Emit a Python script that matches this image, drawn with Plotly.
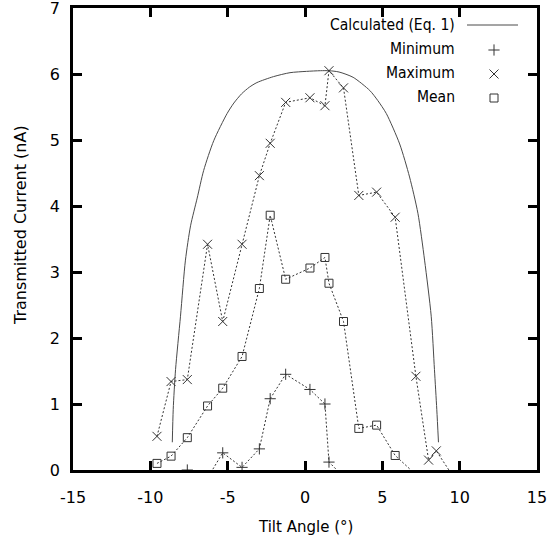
import plotly.graph_objects as go

# ---------------- data ----------------
calc_angle = [-8.58, -8.52, -8.37, -8.05, -7.73, -7.40, -6.97, -6.55, -5.90, -5.04,
              -4.60, -4.10, -3.60, -3.11, -2.04, -0.97, 0.10, 1.00, 1.56, 2.20,
              3.11, 4.19, 4.70, 5.26, 6.12, 6.76, 7.30, 7.73, 8.16, 8.37,
              8.52, 8.63]
calc_current = [0.42, 0.92, 1.52, 2.33, 3.18, 3.70, 4.12, 4.54, 4.99, 5.40,
                5.56, 5.70, 5.80, 5.87, 5.96, 6.02, 6.04, 6.05, 6.05, 6.03,
                5.95, 5.75, 5.60, 5.40, 4.94, 4.44, 3.89, 3.18, 2.33, 1.52,
                0.92, 0.42]

min_angle = [-7.61, -6.30, -5.32, -4.07, -2.95, -2.25, -1.25, 0.32, 1.29, 1.55, 2.49]
min_current = [0.00, -0.12, 0.26, 0.04, 0.32, 1.08, 1.45, 1.22, 1.00, 0.12, -0.10]

max_angle = [-9.57, -8.66, -7.61, -6.30, -5.32, -4.07, -2.95, -2.25, -1.25, 0.32,
             1.29, 1.55, 2.49, 3.48, 4.63, 5.83, 7.17, 7.99, 8.49, 9.50]
max_current = [0.51, 1.34, 1.37, 3.42, 2.25, 3.42, 4.46, 4.95, 5.57, 5.64,
               5.52, 6.05, 5.79, 4.16, 4.21, 3.83, 1.42, 0.15, 0.29, -0.07]

mean_angle = [-9.57, -8.66, -7.61, -6.30, -5.32, -4.07, -2.95, -2.25, -1.25, 0.32,
              1.29, 1.55, 2.49, 3.48, 4.63, 5.83, 7.17]
mean_current = [0.10, 0.21, 0.49, 0.97, 1.24, 1.72, 2.75, 3.86, 2.89, 3.06,
                3.22, 2.83, 2.25, 0.63, 0.68, 0.22, -0.07]

legend_labels = ["Calculated (Eq. 1)", "Minimum", "Maximum", "Mean"]
x_ticks = [-15, -10, -5, 0, 5, 10, 15]
x_tick_text = ["-15", "-10", "-5", "0", "5", "10", "15"]
y_ticks = [0, 1, 2, 3, 4, 5, 6, 7]

# ---------------- styling ----------------
FONT = "DejaVu Sans, sans-serif"
FONT_C = "DejaVu Sans Condensed, DejaVu Sans, sans-serif"
TXT = "#000000"
LINE = "#4a4a4a"
MARK = "#333333"
DOT = "2px,2px"

W, H = 552, 546
ML, MR, MT, MB = 73, 15, 8, 76

fig = go.Figure()

fig.add_trace(go.Scatter(x=calc_angle, y=calc_current, mode="lines",
                         line=dict(color=LINE, width=1, shape="spline", smoothing=0.7),
                         showlegend=False, hoverinfo="skip"))

fig.add_trace(go.Scatter(x=min_angle, y=min_current, mode="lines+markers",
                         line=dict(color=MARK, width=1, dash=DOT),
                         marker=dict(symbol="cross-thin-open", size=8,
                                     line=dict(color=MARK, width=1)),
                         showlegend=False))

fig.add_trace(go.Scatter(x=max_angle, y=max_current, mode="lines+markers",
                         line=dict(color=MARK, width=1, dash=DOT),
                         marker=dict(symbol="x-thin-open", size=9,
                                     line=dict(color=MARK, width=1)),
                         showlegend=False))

fig.add_trace(go.Scatter(x=mean_angle, y=mean_current, mode="lines+markers",
                         line=dict(color=MARK, width=1, dash=DOT),
                         marker=dict(symbol="square-open", size=8, color=MARK,
                                     line=dict(color=MARK, width=1)),
                         showlegend=False))

# ---------------- manual legend (text left, sample right, like gnuplot) -------
px_x0, px_x1 = ML, W - MR
px_y0, px_y1 = MT, H - MB
leg_text_x = 457
leg_rows = [25, 49, 73, 97]
sample_x0, sample_x1 = 467, 518
sample_xc = 494

fig.add_trace(go.Scatter(x=[sample_x0, sample_x1], y=[leg_rows[0], leg_rows[0]],
                         xaxis="x2", yaxis="y2", mode="lines",
                         line=dict(color=LINE, width=1), showlegend=False, hoverinfo="skip"))
for row, sym, sz in [(leg_rows[1], "cross-thin-open", 8),
                     (leg_rows[2], "x-thin-open", 9),
                     (leg_rows[3], "square-open", 8)]:
    fig.add_trace(go.Scatter(x=[sample_xc], y=[row + 1], xaxis="x2", yaxis="y2",
                             mode="markers",
                             marker=dict(symbol=sym, size=sz, color=MARK,
                                         line=dict(color=MARK, width=1)),
                             showlegend=False, hoverinfo="skip"))

annotations = []
for lab, row in zip(legend_labels, leg_rows):
    annotations.append(dict(x=leg_text_x, y=row, xref="x2", yref="y2", text=lab,
                            showarrow=False, xanchor="right", yanchor="middle",
                            font=dict(family=FONT_C, size=15.5, color=TXT)))

# axis titles as annotations (placed like the reference)
plot_w = W - ML - MR
plot_h = H - MT - MB
annotations.append(dict(text="Tilt Angle (°)", xref="paper", yref="paper",
                        x=(305 - ML) / plot_w, y=-(527 - (H - MB)) / plot_h,
                        xanchor="center", yanchor="middle", showarrow=False,
                        font=dict(family=FONT, size=15, color=TXT)))
annotations.append(dict(text="Transmitted Current (nA)", xref="paper", yref="paper",
                        x=-(ML - 20) / plot_w, y=((H - MB) - 225) / plot_h,
                        xanchor="center", yanchor="middle", showarrow=False,
                        textangle=-90,
                        font=dict(family=FONT, size=16, color=TXT)))

axis_common = dict(showgrid=False, zeroline=False, showline=True, linecolor="#000000",
                   linewidth=2.6, mirror="ticks", ticks="inside", ticklen=9,
                   tickwidth=2.6, tickcolor="#000000", automargin=False,
                   ticklabeloverflow="allow",
                   tickfont=dict(family=FONT, size=16, color=TXT))

fig.update_layout(
    width=W, height=H,
    margin=dict(l=ML, r=MR, t=MT, b=MB, pad=0, autoexpand=False),
    paper_bgcolor="white", plot_bgcolor="white",
    font=dict(family=FONT, size=16, color=TXT),
    xaxis=dict(range=[-15, 15], tickvals=x_ticks, ticktext=x_tick_text,
               ticklabelstandoff=11, **axis_common),
    yaxis=dict(range=[0, 7], tickvals=y_ticks, ticklabelstandoff=7, **axis_common),
    xaxis2=dict(range=[px_x0, px_x1], overlaying="x", anchor="y2", visible=False,
                fixedrange=True),
    yaxis2=dict(range=[px_y1, px_y0], overlaying="y", anchor="x2", visible=False,
                fixedrange=True),
    annotations=annotations,
    showlegend=False,
)

fig.write_html("out.html")
